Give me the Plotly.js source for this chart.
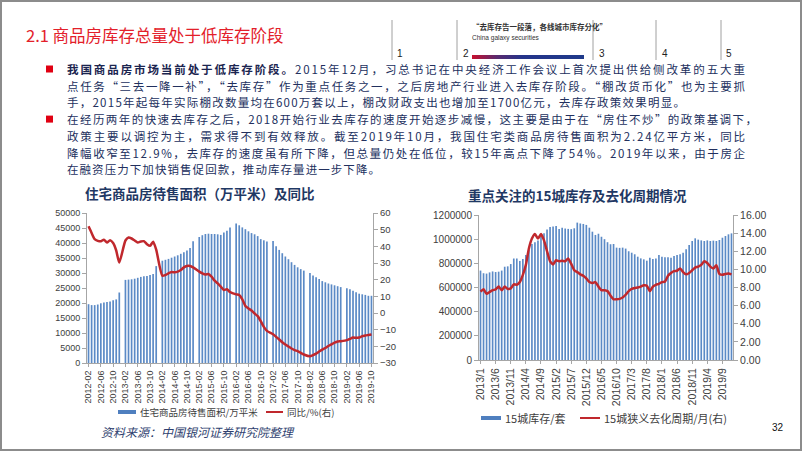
<!DOCTYPE html>
<html>
<head>
<meta charset="utf-8">
<script src="https://cdn.plot.ly/plotly-3.0.1.min.js"></script>
<style>
html,body{margin:0;padding:0;background:#fff;}
#wrap{position:relative;width:802px;height:451px;overflow:hidden;background:#fff;}
#chart{position:absolute;left:0;top:0;width:802px;height:451px;}
.ln{position:absolute;left:67px;font-family:"Noto Sans CJK SC",sans-serif;font-size:11.5px;color:#22305E;white-space:nowrap;line-height:16px;}
.ln b{color:#1B2550;}
#grad{position:absolute;left:472px;top:55px;width:112px;height:4px;background:linear-gradient(to right,#C8102E 0%,#5A2A6E 22%,#24348A 45%,#1F3A8A 100%);}
</style>
</head>
<body>
<div id="wrap">
  <div id="chart"></div>
  <div id="grad"></div>
</div>
<script>
// ---------- data: left chart (住宅商品房待售面积) ----------
const leftMonths = [];
for (let y = 2012; y <= 2019; y++) {
  for (let m = 1; m <= 12; m++) {
    if (y === 2012 && m < 2) continue;
    if (y === 2019 && m > 10) continue;
    leftMonths.push(y + '-' + String(m).padStart(2, '0'));
  }
}
const stockArea = [
  19600,19300,19300,19500,19900,20200,20300,20500,20900,21200,23500,
  null,27700,27800,27900,28100,28400,28700,28900,29000,29300,29700,32300,
  null,34100,34400,34700,35100,35500,35900,36400,36900,37500,38300,40600,
  null,42000,42600,43000,43100,43000,43000,42900,42700,43500,44100,45200,
  null,46500,45900,45200,44600,43900,43300,42900,42300,41300,40900,40500,
  null,40700,38900,37700,36600,35500,34600,33600,32700,31900,31300,30800,
  null,30000,29200,28600,28000,27300,26900,26500,26200,25900,25600,25300,
  null,24900,24600,24100,23600,23100,22900,22700,22400,22400
];
const stockYoY = [
  52,48,44.3,43.3,43,44,42.3,43.7,42,37.5,30.3,
  null,43.5,45.3,44.7,43.5,42.3,42.9,43.1,41.3,40.3,42.7,38,
  null,22.4,22.8,23.8,24.6,24.4,24.8,25.8,27.4,28.2,28.2,27.4,
  null,24.8,23.8,23.1,23.4,21.8,19.4,17.8,15.8,13.8,14.2,12.6,
  null,11.2,10.8,8.2,4.2,2.7,1.5,-0.3,-1.9,-4.9,-8.3,-10.7,
  null,-12.7,-14.3,-15.9,-17.5,-18.9,-20.1,-21.3,-22.3,-22.9,-23.9,-24.9,
  null,-26,-25.3,-24.4,-23.1,-22,-21,-19.8,-18.8,-17.8,-17.1,-16.9,
  null,-16.3,-15.5,-14.7,-14.9,-14.7,-13.9,-13.5,-13.2,-12.9
];
const leftTicks = ['2012-02','2012-06','2012-10','2013-02','2013-06','2013-10','2014-02','2014-06','2014-10',
  '2015-02','2015-06','2015-10','2016-02','2016-06','2016-10','2017-02','2017-06','2017-10',
  '2018-02','2018-06','2018-10','2019-02','2019-06','2019-10'];

// ---------- data: right chart (15城库存及去化周期) ----------
const rightMonths = [];
for (let y = 2013; y <= 2019; y++) for (let m = 1; m <= 12; m++) rightMonths.push(y + '/' + m);
const cityStock = [
  740000,718000,715000,725000,733000,728000,731000,740000,772000,775000,
  794000,840000,840000,820000,835000,870000,910000,960000,975000,990000,
  1020000,1050000,1080000,1100000,1105000,1108000,1085000,1095000,1088000,1085000,
  1083000,1090000,1137000,1130000,1126000,1118000,1095000,1062000,1035000,1045000,
  1020000,1000000,975000,958000,960000,930000,928000,930000,922000,900000,
  888000,875000,855000,841000,833000,822000,847000,836000,841000,869000,
  855000,850000,850000,847000,860000,869000,875000,888000,916000,952000,
  985000,1007000,996000,990000,985000,990000,985000,988000,985000,993000,
  1012000,1026000,1040000,1048000
];
const cityCycle = [
  7.55,7.8,7.3,7.5,7.7,7.8,8.1,7.7,8.1,7.85,
  7.9,8.35,8.3,8.6,9.4,10.5,12.3,13.4,13.9,13.4,
  13.9,13.2,12.0,10.9,10.55,11.0,10.9,10.95,10.9,11.2,
  10.6,9.9,9.7,9.45,9.3,9.0,8.6,8.5,8.6,8.1,
  7.7,7.7,7.6,7.1,6.7,6.7,6.75,6.9,7.2,7.6,
  7.85,7.95,8.0,8.1,8.25,8.2,7.6,8.1,8.3,8.4,
  8.6,8.65,9.3,9.6,9.8,9.85,10.1,9.7,9.45,9.6,
  9.9,10.2,10.3,10.5,10.9,10.7,10.3,10.1,10.45,9.5,
  9.4,9.5,9.55,9.45
];
const rightTicks = ['2013/1','2013/6','2013/11','2014/4','2014/9','2015/2','2015/7','2015/12','2016/5',
  '2016/10','2017/3','2017/8','2018/1','2018/6','2018/11','2019/4','2019/9'];

// ---------- text ----------
const slideTitle = '2.1 商品房库存总量处于低库存阶段';
const leftTitle = '住宅商品房待售面积（万平米）及同比';
const rightTitle = '重点关注的15城库存及去化周期情况';
const leftNames = ['住宅商品房待售面积/万平米', '同比/%(右)'];
const rightNames = ['15城库存/套', '15城狭义去化周期/月(右)'];
const sourceText = '资料来源：中国银河证券研究院整理';
const paraLines = [
  {html:'<b>我国商品房市场当前处于低库存阶段。</b>2015年12月，习总书记在中央经济工作会议上首次提出供给侧改革的五大重', w:678},
  {html:'点任务“三去一降一补”，“去库存”作为重点任务之一，之后房地产行业进入去库存阶段。“棚改货币化”也为主要抓', w:678},
  {html:'手，2015年起每年实际棚改数量均在600万套以上，棚改财政支出也增加至1700亿元，去库存政策效果明显。', w:618},
  {html:'在经历两年的快速去库存之后，2018开始行业去库存的速度开始逐步减慢，这主要是由于在“房住不炒”的政策基调下，', w:690},
  {html:'政策主要以调控为主，需求得不到有效释放。截至2019年10月，我国住宅类商品房待售面积为2.24亿平方米，同比', w:678},
  {html:'降幅收窄至12.9%，去库存的速度虽有所下降，但总量仍处在低位，较15年高点下降了54%。2019年以来，由于房企', w:678},
  {html:'在融资压力下加快销售促回款，推动库存量进一步下降。', w:313}
];
const lineCenters = [69, 85.7, 102.4, 119.1, 135.8, 152.5, 169.2];

// ---------- helpers ----------
const W = 802, H = 451;
const PX = v => v / W;
const PY = v => 1 - v / H;
const blue = '#5B8AC6', red = '#C0282D', axisC = '#A6A6A6', tickFontC = '#404040';
const tf = (s) => ({family: 'Liberation Sans, Arial, sans-serif', size: s, color: tickFontC});

const traces = [
  {type:'bar', x: leftMonths, y: stockArea, xaxis:'x', yaxis:'y', marker:{color: blue}, hoverinfo:'skip'},
  {type:'scatter', mode:'lines', x: leftMonths, y: stockYoY, xaxis:'x', yaxis:'y2', connectgaps:true,
   line:{color: red, width: 2.5, shape:'spline', smoothing:0.6}, hoverinfo:'skip'},
  {type:'bar', x: rightMonths, y: cityStock, xaxis:'x2', yaxis:'y3', marker:{color: blue}, hoverinfo:'skip'},
  {type:'scatter', mode:'lines', x: rightMonths, y: cityCycle, xaxis:'x2', yaxis:'y4',
   line:{color: red, width: 2.5, shape:'spline', smoothing:0.5}, hoverinfo:'skip'}
];

const axBase = {showline:true, linecolor: axisC, linewidth:1, ticks:'outside', tickcolor: axisC,
  showgrid:false, zeroline:false, fixedrange:true};

const shapes = [];
const annotations = [];
// border
shapes.push({type:'rect', xref:'paper', yref:'paper', x0:PX(1), x1:PX(801), y0:PY(450), y1:PY(1),
  line:{color:'#8C8C8C', width:2}, fillcolor:'rgba(0,0,0,0)'});
// nav lines
[392, 457, 593, 656, 721].forEach(x => shapes.push({type:'line', xref:'paper', yref:'paper',
  x0:PX(x), x1:PX(x), y0:PY(20), y1:PY(60), line:{color:'#A0A0A0', width:1}}));
// bullets
[69, 119.1].forEach(y => shapes.push({type:'rect', xref:'paper', yref:'paper',
  x0:PX(46), x1:PX(53), y0:PY(y+3.5), y1:PY(y-3.5), line:{width:0}, fillcolor:'#E00012'}));
// legend swatches
shapes.push({type:'rect', xref:'paper', yref:'paper', x0:PX(118), x1:PX(136), y0:PY(414), y1:PY(410),
  line:{width:0}, fillcolor:'#4F7FBF'});
shapes.push({type:'line', xref:'paper', yref:'paper', x0:PX(266), x1:PX(283), y0:PY(412), y1:PY(412),
  line:{color: red, width:2}});
shapes.push({type:'rect', xref:'paper', yref:'paper', x0:PX(481), x1:PX(501), y0:PY(420), y1:PY(416),
  line:{width:0}, fillcolor:'#4F7FBF'});
shapes.push({type:'line', xref:'paper', yref:'paper', x0:PX(580), x1:PX(600), y0:PY(418), y1:PY(418),
  line:{color: red, width:2}});

const cjk = '"Noto Sans CJK SC", sans-serif';
function ann(text, x, y, opts) {
  annotations.push(Object.assign({text, xref:'paper', yref:'paper', x:PX(x), y:PY(y),
    showarrow:false, xanchor:'left', yanchor:'middle'}, opts));
}
ann(slideTitle, 24, 35, {font:{family:cjk, size:16.5, color:'#E3202A'}});
ann('1', 395, 53, {font:{family:'Liberation Sans', size:10, color:'#222'}});
ann('2', 461, 53, {font:{family:'Liberation Sans', size:10, color:'#222'}});
ann('3', 597, 53, {font:{family:'Liberation Sans', size:10, color:'#222'}});
ann('4', 660, 53, {font:{family:'Liberation Sans', size:10, color:'#222'}});
ann('5', 724, 53, {font:{family:'Liberation Sans', size:10, color:'#222'}});
ann('<b>“去库存告一段落，各线城市库存分化”</b>', 470, 27, {font:{family:cjk, size:7.5, color:'#333'}});
ann('China galaxy securities', 470, 38, {font:{family:'Liberation Sans', size:6.5, color:'#333'}});
ann('<b>' + leftTitle + '</b>', 200, 193, {xanchor:'center', font:{family:cjk, size:13.5, color:'#1F3864'}});
ann('<b>' + rightTitle + '</b>', 577, 195, {xanchor:'center', font:{family:cjk, size:13.5, color:'#1F3864'}});
ann(leftNames[0], 138, 412, {font:{family:cjk, size:9.5, color:'#404040'}});
ann(leftNames[1], 285, 412, {font:{family:cjk, size:9.5, color:'#404040'}});
ann(rightNames[0], 503, 418, {font:{family:cjk, size:11, color:'#404040'}});
ann(rightNames[1], 602, 418, {font:{family:cjk, size:11, color:'#404040'}});
ann(sourceText, 99, 431, {font:{family:cjk, size:12, color:'#2F3F6F', style:'italic'}});
ann('32', 778, 427, {xanchor:'center', font:{family:'Liberation Sans', size:10, color:'#111'}});

const layout = {
  width: W, height: H, margin:{l:0, r:0, t:0, b:0}, paper_bgcolor:'#fff', plot_bgcolor:'rgba(0,0,0,0)',
  showlegend:false, bargap:0.45,
  xaxis: Object.assign({}, axBase, {domain:[PX(87), PX(373)], anchor:'y', type:'category',
    range:[-0.5, leftMonths.length - 0.5], tickvals:leftTicks, ticktext:leftTicks, tickangle:-90,
    ticklen:3, tickfont: tf(9)}),
  yaxis: Object.assign({}, axBase, {domain:[PY(363), PY(213)], anchor:'x', range:[0, 50000], dtick:5000,
    tickformat:'d', ticklen:4, tickfont: tf(9)}),
  yaxis2: Object.assign({}, axBase, {overlaying:'y', side:'right', anchor:'x', range:[-30, 60], dtick:10,
    ticklen:4, tickfont: tf(9.5)}),
  xaxis2: Object.assign({}, axBase, {domain:[PX(479), PX(733)], anchor:'y3', type:'category',
    range:[-0.5, rightMonths.length - 0.5], tickvals:rightTicks, ticktext:rightTicks, tickangle:-90,
    ticklen:3, tickfont: tf(10.5)}),
  yaxis3: Object.assign({}, axBase, {domain:[PY(360), PY(215)], anchor:'x2', range:[0, 1200000], dtick:200000,
    tickformat:'d', ticklen:4, tickfont: tf(10)}),
  yaxis4: Object.assign({}, axBase, {overlaying:'y3', side:'right', anchor:'x2', range:[0, 16], dtick:2,
    tickformat:'.2f', ticklen:4, tickfont: tf(10.5)}),
  shapes, annotations
};

Plotly.newPlot('chart', traces, layout, {staticPlot:true, displayModeBar:false});

// paragraph lines (stretched to the widths of the original text box lines)
const wrap = document.getElementById('wrap');
paraLines.forEach((l, i) => {
  const d = document.createElement('div');
  d.className = 'ln';
  d.innerHTML = l.html;
  d.style.top = (lineCenters[i] - 8) + 'px';
  wrap.appendChild(d);
  if (l.w) {
    const nat = d.getBoundingClientRect().width;
    const n = Array.from(d.textContent).length;
    d.style.letterSpacing = ((l.w - nat) / (n - 1)) + 'px';
  }
});
</script>
</body>
</html>
